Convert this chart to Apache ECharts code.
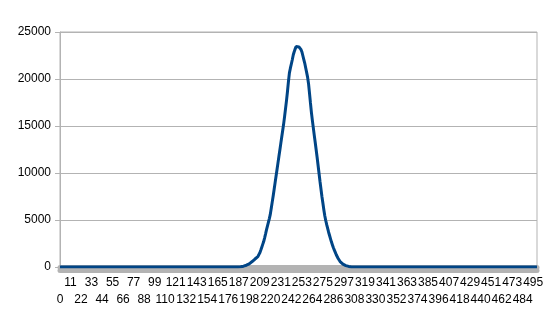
<!DOCTYPE html>
<html><head><meta charset="utf-8">
<script src="https://cdn.jsdelivr.net/npm/echarts@6/dist/echarts.min.js"></script>
<style>html,body{margin:0;padding:0;background:#fff}#c{width:551px;height:325px}</style>
</head><body><div id="c"></div>
<script>
// Categories 0..499
const firstCat = 0, lastCat = 499;
// Non-zero region (categories 186..306)
const peakStart = 186;
const peakValues = [
  0,10,20,30,50,70,90,120,150,190,230,280,340,420,500,580,670,760,850,940,
  1030,1110,1260,1500,1780,2080,2380,2680,3080,3500,3950,4350,4750,5150,5600,6250,6900,7550,8250,8950,
  9650,10350,11050,11750,12450,13150,13850,14550,15250,16050,16900,17750,18700,19750,20650,21150,21600,22050,22550,22900,
  23200,23450,23550,23500,23400,23250,23150,22900,22500,22100,21700,21200,20700,20200,19500,18500,17450,16450,15600,14800,
  14000,13250,12450,11650,10800,9950,9100,8300,7500,6800,6100,5450,4950,4500,4100,3700,3350,3000,2650,2350,
  2050,1800,1550,1300,1100,900,720,580,470,380,300,240,190,150,110,80,60,40,20,10,0
];
const yTicks = [0, 5000, 10000, 15000, 20000, 25000];
const labelStep = 11;

const categories = [];
const values = [];
for (let i = firstCat; i <= lastCat; i++) {
  categories.push(String(i));
  const k = i - peakStart;
  values.push(k >= 0 && k < peakValues.length ? peakValues[k] : 0);
}

const font = 'Liberation Sans, Arial, sans-serif';
function xAxisRow(isUpper) {
  return {
    type: 'category',
    data: categories,
    boundaryGap: false,
    position: 'bottom',
    offset: 3,
    axisLine: {show: true, lineStyle: {color: '#b3b3b3', width: 5}},
    axisTick: {show: false},
    splitLine: {show: false},
    axisLabel: {
      interval: function (idx) {
        if (idx % labelStep !== 0) return false;
        const odd = (idx / labelStep) % 2 === 1;
        return isUpper ? odd : !odd;
      },
      showMinLabel: false === isUpper ? null : null,
      margin: isUpper ? 7 : 24,
      fontSize: 12,
      color: '#000',
      fontFamily: font
    }
  };
}

const chart = echarts.init(document.getElementById('c'), null, {renderer: 'canvas'});
chart.setOption({
  animation: false,
  textStyle: {fontFamily: font},
  grid: {left: 60, right: 14, top: 32, bottom: 58, show: true, borderColor: '#b3b3b3', borderWidth: 1, backgroundColor: 'transparent'},
  xAxis: [xAxisRow(true), xAxisRow(false)],
  yAxis: {
    type: 'value',
    min: yTicks[0],
    max: yTicks[yTicks.length - 1],
    interval: 5000,
    axisLine: {show: true, lineStyle: {color: '#b3b3b3', width: 1}},
    axisTick: {show: true, length: 5, lineStyle: {color: '#b3b3b3'}},
    splitLine: {show: true, lineStyle: {color: '#b3b3b3', width: 1}},
    axisLabel: {fontSize: 12, color: '#000', margin: 9, fontFamily: font, formatter: function (v) { return String(v); }}
  },
  series: [{
    type: 'line',
    xAxisIndex: 0,
    data: values,
    showSymbol: false,
    symbol: 'none',
    smooth: false,
    lineStyle: {color: '#004586', width: 3},
    z: 5
  }]
});
</script></body></html>
